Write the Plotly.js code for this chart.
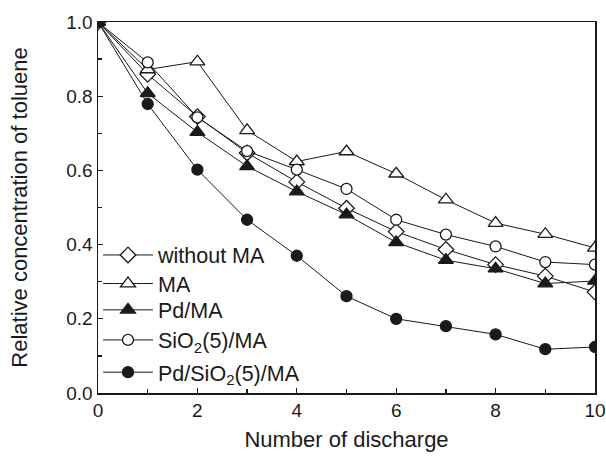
<!DOCTYPE html>
<html>
<head>
<meta charset="utf-8">
<script src="https://cdn.plot.ly/plotly-3.0.1.min.js"></script>
<style>html,body{margin:0;padding:0;background:#fff;}#chart{width:606px;height:461px;}</style>
</head>
<body>
<div id="chart"></div>
<script>
const discharges = [0, 1, 2, 3, 4, 5, 6, 7, 8, 9, 10];
const withoutMA = [1.0, 0.859, 0.745, 0.647, 0.569, 0.498, 0.435, 0.387, 0.346, 0.315, 0.272];
const MA = [1.0, 0.872, 0.893, 0.708, 0.624, 0.651, 0.591, 0.521, 0.458, 0.428, 0.391];
const PdMA = [1.0, 0.808, 0.703, 0.611, 0.543, 0.481, 0.406, 0.358, 0.335, 0.295, 0.302];
const SiO2MA = [1.0, 0.891, 0.743, 0.652, 0.602, 0.550, 0.467, 0.427, 0.395, 0.353, 0.346];
const PdSiO2MA = [1.0, 0.779, 0.602, 0.467, 0.370, 0.261, 0.200, 0.180, 0.158, 0.118, 0.124];
const seriesNames = ['without MA', 'MA', 'Pd/MA', 'SiO<sub>2</sub>(5)/MA', 'Pd/SiO<sub>2</sub>(5)/MA'];

const ink = '#1a1a1a';
function mk(y, name, symbol, fill, size, legendId) {
  return {
    x: discharges, y: y, name: name, type: 'scatter', mode: 'lines+markers', legend: legendId,
    line: {color: ink, width: 1},
    marker: {symbol: symbol, size: size, color: fill, line: {color: ink, width: 1.3}}
  };
}
const data = [
  mk(withoutMA, seriesNames[0], 'diamond', '#ffffff', 12, 'legend'),
  mk(MA, seriesNames[1], 'triangle-up', '#ffffff', 13, 'legend2'),
  mk(PdMA, seriesNames[2], 'triangle-up', ink, 13, 'legend3'),
  mk(SiO2MA, seriesNames[3], 'circle', '#ffffff', 11, 'legend4'),
  mk(PdSiO2MA, seriesNames[4], 'circle', ink, 11, 'legend5')
];
const fam = '"Liberation Sans", Arial, sans-serif';
const tickFont = {family: fam, size: 19, color: ink};
const titleFont = {family: fam, size: 22, color: ink};
const legendFont = {family: fam, size: 21.5, color: ink};
function leg(y) {
  return {x: 0, y: y, xanchor: 'left', yanchor: 'middle', bgcolor: 'rgba(0,0,0,0)',
          font: legendFont, itemwidth: 50, tracegroupgap: 0};
}
const layout = {
  width: 606, height: 461,
  margin: {l: 98, r: 11, t: 22, b: 68},
  paper_bgcolor: '#ffffff', plot_bgcolor: '#ffffff',
  font: titleFont,
  showlegend: true,
  legend: leg(0.372),
  legend2: leg(0.295),
  legend3: leg(0.224),
  legend4: leg(0.143),
  legend5: leg(0.056),
  xaxis: {
    range: [0, 10], dtick: 2, tick0: 0, ticks: 'inside', ticklen: 5, tickwidth: 1.3, tickcolor: ink,
    showline: true, linecolor: ink, linewidth: 1.5, mirror: true, showgrid: false, zeroline: false,
    minor: {dtick: 1, ticks: 'inside', ticklen: 4, tickcolor: ink, tickwidth: 1.3},
    ticklabeloverflow: 'allow', automargin: false,
    title: {text: 'Number of discharge', font: titleFont, standoff: 11},
    tickfont: tickFont
  },
  yaxis: {
    range: [0, 1], dtick: 0.2, tick0: 0, tickformat: '.1f', ticks: 'inside', ticklen: 5, tickwidth: 1.3, tickcolor: ink,
    showline: true, linecolor: ink, linewidth: 1.5, mirror: true, showgrid: false, zeroline: false,
    minor: {dtick: 0.1, ticks: 'inside', ticklen: 4, tickcolor: ink, tickwidth: 1.3},
    automargin: false,
    title: {text: 'Relative concentration of toluene', font: titleFont, standoff: 32},
    tickfont: tickFont
  }
};
Plotly.newPlot('chart', data, layout, {staticPlot: true, displayModeBar: false});
</script>
</body>
</html>
